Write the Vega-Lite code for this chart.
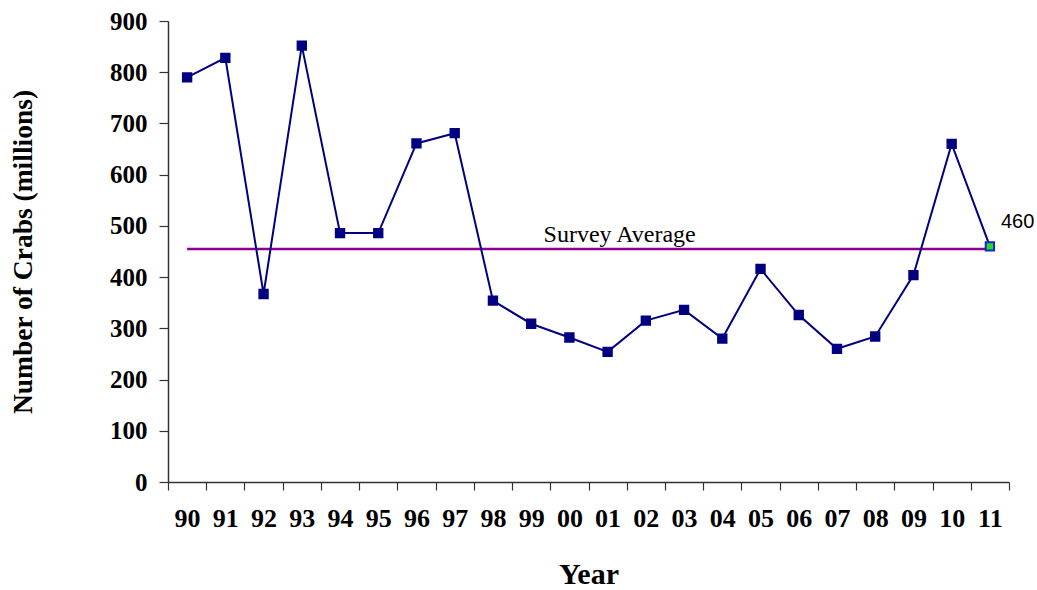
{
  "$schema": "https://vega.github.io/schema/vega-lite/v6.json",
  "width": 841,
  "height": 461,
  "autosize": {"type": "none"},
  "padding": {"left": 168, "top": 21, "right": 28, "bottom": 108},
  "background": "white",
  "config": {
    "view": {"stroke": null},
    "axis": {"grid": false}
  },
  "data": {
    "values": [
      {"year": "90", "crabs": 790, "avg": 455},
      {"year": "91", "crabs": 828, "avg": 455},
      {"year": "92", "crabs": 367, "avg": 455},
      {"year": "93", "crabs": 852, "avg": 455},
      {"year": "94", "crabs": 486, "avg": 455},
      {"year": "95", "crabs": 486, "avg": 455},
      {"year": "96", "crabs": 661, "avg": 455},
      {"year": "97", "crabs": 681, "avg": 455},
      {"year": "98", "crabs": 354, "avg": 455},
      {"year": "99", "crabs": 309, "avg": 455},
      {"year": "00", "crabs": 282, "avg": 455},
      {"year": "01", "crabs": 254, "avg": 455},
      {"year": "02", "crabs": 315, "avg": 455},
      {"year": "03", "crabs": 336, "avg": 455},
      {"year": "04", "crabs": 280, "avg": 455},
      {"year": "05", "crabs": 416, "avg": 455},
      {"year": "06", "crabs": 326, "avg": 455},
      {"year": "07", "crabs": 260, "avg": 455},
      {"year": "08", "crabs": 284, "avg": 455},
      {"year": "09", "crabs": 404, "avg": 455},
      {"year": "10", "crabs": 660, "avg": 455},
      {"year": "11", "crabs": 460, "avg": 455}
    ]
  },
  "encoding": {
    "x": {
      "field": "year",
      "type": "ordinal",
      "sort": null,
      "bandPosition": 0.5,
      "scale": {"type": "band", "paddingInner": 0, "paddingOuter": 0},
      "axis": {
        "title": "Year",
        "labelAngle": 0,
        "tickBand": "extent",
        "labelFont": "Liberation Serif",
        "labelFontWeight": "bold",
        "labelFontSize": 26,
        "labelColor": "black",
        "labelPadding": 15,
        "tickSize": 8,
        "tickColor": "#333",
        "tickWidth": 1.2,
        "domainColor": "#333",
        "domainWidth": 1.5,
        "titleFont": "Liberation Serif",
        "titleFontWeight": "bold",
        "titleFontSize": 30,
        "titleColor": "black",
        "titlePadding": 28
      }
    }
  },
  "layer": [
    {
      "mark": {"type": "line", "color": "#8B008B", "strokeWidth": 2.5},
      "encoding": {
        "y": {
          "field": "avg",
          "type": "quantitative",
          "scale": {"domain": [0, 900], "nice": false},
          "axis": {
            "title": "Number of Crabs (millions)",
            "values": [0, 100, 200, 300, 400, 500, 600, 700, 800, 900],
            "labelFont": "Liberation Serif",
            "labelFontWeight": "bold",
            "labelFontSize": 25,
            "labelColor": "black",
            "labelPadding": 12,
            "tickSize": 9,
            "tickColor": "#333",
            "tickWidth": 1.2,
            "domainColor": "#333",
            "domainWidth": 1.5,
            "titleFont": "Liberation Serif",
            "titleFontWeight": "bold",
            "titleFontSize": 27.5,
            "titleColor": "black",
            "titlePadding": 72
          }
        }
      }
    },
    {
      "mark": {"type": "line", "color": "#000080", "strokeWidth": 2},
      "encoding": {"y": {"field": "crabs", "type": "quantitative"}}
    },
    {
      "mark": {"type": "point", "shape": "square", "filled": true, "size": 70, "opacity": 1},
      "encoding": {
        "y": {"field": "crabs", "type": "quantitative"},
        "color": {
          "condition": {"test": "datum.year === '11'", "value": "#22DD22"},
          "value": "#000080"
        },
        "stroke": {
          "condition": {"test": "datum.year === '11'", "value": "#2222CC"},
          "value": "#000080"
        }
      }
    },
    {
      "transform": [{"filter": "datum.year === '11'"}],
      "mark": {"type": "text", "font": "Liberation Sans", "fontSize": 20, "align": "left", "dx": 11, "dy": -24, "color": "black"},
      "encoding": {
        "y": {"field": "crabs", "type": "quantitative"},
        "text": {"field": "crabs", "type": "quantitative"}
      }
    },
    {
      "transform": [{"filter": "datum.year === '01'"}],
      "mark": {"type": "text", "font": "Liberation Serif", "fontSize": 24, "align": "center", "baseline": "alphabetic", "dx": 12, "dy": -7, "color": "black", "text": "Survey Average"},
      "encoding": {
        "y": {"field": "avg", "type": "quantitative"}
      }
    }
  ]
}
